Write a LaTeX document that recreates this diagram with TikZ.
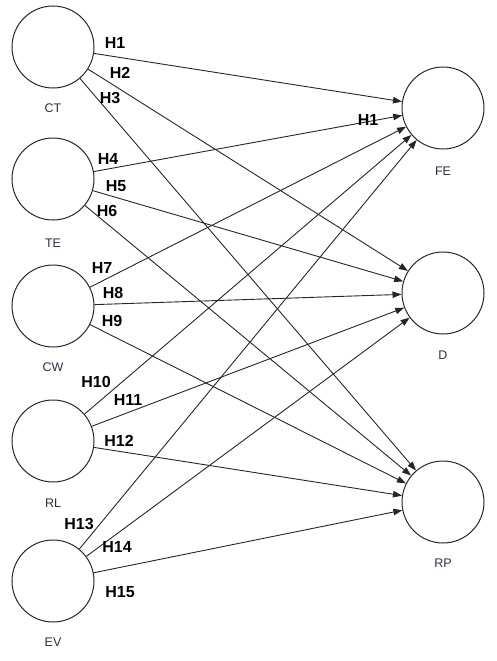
\documentclass[tikz,border=0pt]{standalone}
\usepackage{fontspec}
\setmainfont{Liberation Sans}
\usetikzlibrary{arrows.meta}
\definecolor{lblgray}{RGB}{45,48,65}
\tikzset{
  var/.style={circle, draw=black!85, line width=1pt, minimum size=82pt, inner sep=0pt},
  path/.style={draw=black!85, line width=0.9pt, -{Triangle[length=9pt,width=6.5pt]}, shorten >=0pt},
  hyp/.style={font=\fontsize{16}{16}\selectfont\bfseries, inner sep=0pt},
  vname/.style={font=\fontsize{12.5}{12.5}\selectfont, text=lblgray, inner sep=0pt}
}
\begin{document}
\begin{tikzpicture}[x=1pt,y=-1pt]
\useasboundingbox (0,0) rectangle (496,661);
% left circles
\node[var] (CT) at (53,47) {};
\node[var] (TE) at (53,179) {};
\node[var] (CW) at (53,306) {};
\node[var] (RL) at (53,441) {};
\node[var] (EV) at (53,581) {};
% right circles
\node[var] (FE) at (443,108) {};
\node[var] (D)  at (443,293) {};
\node[var] (RP) at (443,502) {};
% names
\node[vname] (lCT) at (53,108) {CT};
\node[vname] (lTE) at (53,243) {TE};
\node[vname] (lCW) at (53,367) {CW};
\node[vname] (lRL) at (53,503) {RL};
\node[vname] (lEV) at (53,642) {EV};
\node[vname] (lFE) at (443,171) {FE};
\node[vname] (lD)  at (443,355) {D};
\node[vname] (lRP) at (443,563) {RP};
% paths
\foreach \s in {CT,TE,CW,RL,EV}{
  \foreach \t in {FE,D,RP}{
    \draw[path] (\s) -- (\t);
  }
}
% hypothesis labels
\node[hyp] (h1)  at (115,43) {H1};
\node[hyp] (h2)  at (120,73) {H2};
\node[hyp] (h3)  at (110,98) {H3};
\node[hyp] (h4)  at (108,159) {H4};
\node[hyp] (h5)  at (116,186) {H5};
\node[hyp] (h6)  at (107,211) {H6};
\node[hyp] (h7)  at (102,268) {H7};
\node[hyp] (h8)  at (113,293) {H8};
\node[hyp] (h9)  at (112,321) {H9};
\node[hyp] (h10) at (96,382) {H10};
\node[hyp] (h11) at (128,400) {H11};
\node[hyp] (h12) at (119,441) {H12};
\node[hyp] (h13) at (79,524) {H13};
\node[hyp] (h14) at (117,547) {H14};
\node[hyp] (h15) at (120,592) {H15};
\node[hyp] (h1b) at (368,120) {H1};
\end{tikzpicture}
\end{document}
